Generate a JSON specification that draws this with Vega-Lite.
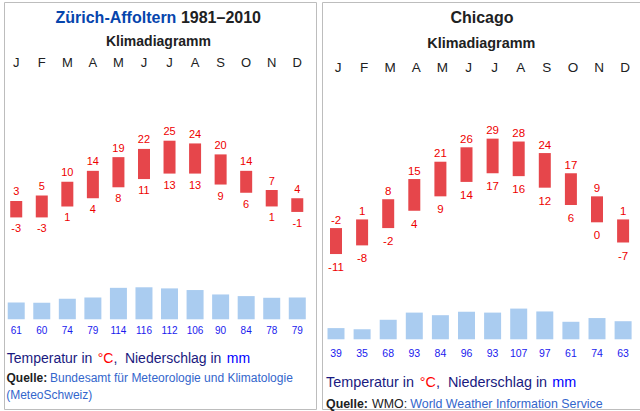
{
  "$schema": "https://vega.github.io/schema/vega-lite/v6.json",
  "padding": {"left": 3, "top": 1, "right": 0, "bottom": 0},
  "spacing": 4,
  "config": {
    "view": {"stroke": "#bdbdbd", "strokeWidth": 1},
    "font": "Liberation Sans",
    "text": {"font": "Liberation Sans"}
  },
  "datasets": {
    "zurich": [
      {"month": "Jan", "tmax": 3, "tmin": -3, "precip": 61},
      {"month": "Feb", "tmax": 5, "tmin": -3, "precip": 60},
      {"month": "Mar", "tmax": 10, "tmin": 1, "precip": 74},
      {"month": "Apr", "tmax": 14, "tmin": 4, "precip": 79},
      {"month": "May", "tmax": 19, "tmin": 8, "precip": 114},
      {"month": "Jun", "tmax": 22, "tmin": 11, "precip": 116},
      {"month": "Jul", "tmax": 25, "tmin": 13, "precip": 112},
      {"month": "Aug", "tmax": 24, "tmin": 13, "precip": 106},
      {"month": "Sep", "tmax": 20, "tmin": 9, "precip": 90},
      {"month": "Oct", "tmax": 14, "tmin": 6, "precip": 84},
      {"month": "Nov", "tmax": 7, "tmin": 1, "precip": 78},
      {"month": "Dec", "tmax": 4, "tmin": -1, "precip": 79}
    ],
    "chicago": [
      {"month": "Jan", "tmax": -2, "tmin": -11, "precip": 39},
      {"month": "Feb", "tmax": 1, "tmin": -8, "precip": 35},
      {"month": "Mar", "tmax": 8, "tmin": -2, "precip": 68},
      {"month": "Apr", "tmax": 15, "tmin": 4, "precip": 93},
      {"month": "May", "tmax": 21, "tmin": 9, "precip": 84},
      {"month": "Jun", "tmax": 26, "tmin": 14, "precip": 96},
      {"month": "Jul", "tmax": 29, "tmin": 17, "precip": 93},
      {"month": "Aug", "tmax": 28, "tmin": 16, "precip": 107},
      {"month": "Sep", "tmax": 24, "tmin": 12, "precip": 97},
      {"month": "Oct", "tmax": 17, "tmin": 6, "precip": 61},
      {"month": "Nov", "tmax": 9, "tmin": 0, "precip": 74},
      {"month": "Dec", "tmax": 1, "tmin": -7, "precip": 63}
    ]
  },
  "hconcat": [
    {
      "width": 312,
      "height": 407,
      "resolve": {"scale": {"y": "independent"}},
      "layer": [
        {
          "data": {"name": "zurich"},
          "encoding": {
            "x": {"field": "month", "type": "ordinal", "sort": null,
              "scale": {"range": [-0.55, 306.05], "paddingInner": 0, "paddingOuter": 0},
              "axis": {"orient": "top", "offset": -64.7, "labelExpr": "substring(datum.label,0,1)", "ticks": false, "domain": false, "grid": false, "labelPadding": 0, "labelBaseline": "alphabetic", "labelFontSize": 13, "labelColor": "#202122", "labelFont": "Liberation Sans", "labelAngle": 0, "title": null}}
          },
          "layer": [
            {"mark": {"type": "rule", "strokeDash": [1, 2], "color": "#d0d0d0"},
             "encoding": {"y": {"datum": 0, "type": "quantitative", "scale": {"domain": [-72.92, 75.62], "nice": false, "zero": false}, "axis": null}}},
            {"mark": {"type": "bar", "size": 12, "color": "#e6464b"},
             "encoding": {
               "y": {"field": "tmax", "type": "quantitative", "scale": {"domain": [-72.92, 75.62], "nice": false, "zero": false}, "axis": null},
               "y2": {"field": "tmin"}}},
            {"mark": {"type": "text", "dy": -5.5, "baseline": "alphabetic", "fontSize": 11, "color": "#ee0000"},
             "encoding": {
               "y": {"field": "tmax", "type": "quantitative", "scale": {"domain": [-72.92, 75.62], "nice": false, "zero": false}, "axis": null},
               "text": {"field": "tmax", "type": "nominal"}}},
            {"mark": {"type": "text", "dy": 15, "baseline": "alphabetic", "fontSize": 11, "color": "#ee0000"},
             "encoding": {
               "y": {"field": "tmin", "type": "quantitative", "scale": {"domain": [-72.92, 75.62], "nice": false, "zero": false}, "axis": null},
               "text": {"field": "tmin", "type": "nominal"}}}
          ]
        },
        {
          "data": {"name": "zurich"},
          "encoding": {
            "x": {"field": "month", "type": "ordinal", "sort": null,
              "scale": {"range": [-0.55, 306.05], "paddingInner": 0, "paddingOuter": 0},
              "axis": {"orient": "top", "offset": -64.7, "labelExpr": "substring(datum.label,0,1)", "ticks": false, "domain": false, "grid": false, "labelPadding": 0, "labelBaseline": "alphabetic", "labelFontSize": 13, "labelColor": "#202122", "labelFont": "Liberation Sans", "labelAngle": 0, "title": null}}
          },
          "layer": [
            {"mark": {"type": "bar", "size": 17, "color": "#aaccf0"},
             "encoding": {
               "y": {"field": "precip", "type": "quantitative", "scale": {"domain": [-325.0, 1149.6], "nice": false, "zero": false}, "axis": null},
               "y2": {"datum": 0}}},
            {"mark": {"type": "rule", "strokeDash": [1, 2], "color": "#c8c8c8"},
             "encoding": {"y": {"datum": 0, "type": "quantitative", "scale": {"domain": [-325.0, 1149.6], "nice": false, "zero": false}, "axis": null}}},
            {"mark": {"type": "text", "dy": 15.2, "baseline": "alphabetic", "fontSize": 10, "color": "#1a1aee"},
             "encoding": {
               "y": {"datum": 0, "type": "quantitative", "scale": {"domain": [-325.0, 1149.6], "nice": false, "zero": false}, "axis": null},
               "text": {"field": "precip", "type": "nominal"}}}
          ]
        },
        {"data": {"values": [{}]}, "mark": {"type": "text", "text": "Zürich-Affoltern", "x": 51.5, "y": 21, "align": "left", "baseline": "alphabetic", "fontSize": 16, "fontWeight": "bold", "color": "#0645ad"}},
        {"data": {"values": [{}]}, "mark": {"type": "text", "text": "1981–2010", "x": 176.9, "y": 21, "align": "left", "baseline": "alphabetic", "fontSize": 16, "fontWeight": "bold", "color": "#202122"}},
        {"data": {"values": [{}]}, "mark": {"type": "text", "text": "Klimadiagramm", "x": 154.5, "y": 43.5, "align": "center", "baseline": "alphabetic", "fontSize": 14, "fontWeight": "bold", "color": "#202122"}},
        {"data": {"values": [{}]}, "mark": {"type": "text", "text": "Temperatur in", "x": 2.7, "y": 360.7, "align": "left", "baseline": "alphabetic", "fontSize": 14, "color": "#1a1a80"}},
        {"data": {"values": [{}]}, "mark": {"type": "text", "text": "°C", "x": 93.7, "y": 360.7, "align": "left", "baseline": "alphabetic", "fontSize": 14, "color": "#ff0000"}},
        {"data": {"values": [{}]}, "mark": {"type": "text", "text": ",", "x": 109.4, "y": 360.7, "align": "left", "baseline": "alphabetic", "fontSize": 14, "color": "#1a1a80"}},
        {"data": {"values": [{}]}, "mark": {"type": "text", "text": "Niederschlag in", "x": 120.9, "y": 360.7, "align": "left", "baseline": "alphabetic", "fontSize": 14, "color": "#1a1a80"}},
        {"data": {"values": [{}]}, "mark": {"type": "text", "text": "mm", "x": 222.8, "y": 360.7, "align": "left", "baseline": "alphabetic", "fontSize": 14, "color": "#0000ff"}},
        {"data": {"values": [{}]}, "mark": {"type": "text", "text": "Quelle:", "x": 2.5, "y": 380, "align": "left", "baseline": "alphabetic", "fontSize": 12, "fontWeight": "bold", "color": "#202122"}},
        {"data": {"values": [{}]}, "mark": {"type": "text", "text": "Bundesamt für Meteorologie und Klimatologie", "x": 46, "y": 380, "align": "left", "baseline": "alphabetic", "fontSize": 12, "color": "#3366cc"}},
        {"data": {"values": [{}]}, "mark": {"type": "text", "text": "(MeteoSchweiz)", "x": 2.2, "y": 396.7, "align": "left", "baseline": "alphabetic", "fontSize": 12, "color": "#3366cc"}}
      ]
    },
    {
      "width": 319,
      "height": 407,
      "resolve": {"scale": {"y": "independent"}},
      "layer": [
        {
          "data": {"name": "chicago"},
          "encoding": {
            "x": {"field": "month", "type": "ordinal", "sort": null,
              "scale": {"range": [0.95, 314.15], "paddingInner": 0, "paddingOuter": 0},
              "axis": {"orient": "top", "offset": -69.5, "labelOffset": 2, "labelExpr": "substring(datum.label,0,1)", "ticks": false, "domain": false, "grid": false, "labelPadding": 0, "labelBaseline": "alphabetic", "labelFontSize": 13.5, "labelColor": "#202122", "labelFont": "Liberation Sans", "labelAngle": 0, "title": null}}
          },
          "layer": [
            {"mark": {"type": "rule", "strokeDash": [1, 2], "color": "#bfae9f"},
             "encoding": {"y": {"datum": 0, "type": "quantitative", "scale": {"domain": [-64.71, 76.36], "nice": false, "zero": false}, "axis": null}}},
            {"mark": {"type": "bar", "size": 12, "color": "#e6464b"},
             "encoding": {
               "y": {"field": "tmax", "type": "quantitative", "scale": {"domain": [-64.71, 76.36], "nice": false, "zero": false}, "axis": null},
               "y2": {"field": "tmin"}}},
            {"mark": {"type": "text", "dy": -4.3, "baseline": "alphabetic", "fontSize": 11.5, "color": "#ee0000"},
             "encoding": {
               "y": {"field": "tmax", "type": "quantitative", "scale": {"domain": [-64.71, 76.36], "nice": false, "zero": false}, "axis": null},
               "text": {"field": "tmax", "type": "nominal"}}},
            {"mark": {"type": "text", "dy": 17, "baseline": "alphabetic", "fontSize": 11.5, "color": "#ee0000"},
             "encoding": {
               "y": {"field": "tmin", "type": "quantitative", "scale": {"domain": [-64.71, 76.36], "nice": false, "zero": false}, "axis": null},
               "text": {"field": "tmin", "type": "nominal"}}}
          ]
        },
        {
          "data": {"name": "chicago"},
          "encoding": {
            "x": {"field": "month", "type": "ordinal", "sort": null,
              "scale": {"range": [0.95, 314.15], "paddingInner": 0, "paddingOuter": 0},
              "axis": {"orient": "top", "offset": -69.5, "labelOffset": 2, "labelExpr": "substring(datum.label,0,1)", "ticks": false, "domain": false, "grid": false, "labelPadding": 0, "labelBaseline": "alphabetic", "labelFontSize": 13.5, "labelColor": "#202122", "labelFont": "Liberation Sans", "labelAngle": 0, "title": null}}
          },
          "layer": [
            {"mark": {"type": "bar", "size": 17, "color": "#aaccf0"},
             "encoding": {
               "y": {"field": "precip", "type": "quantitative", "scale": {"domain": [-242.9, 1175.3], "nice": false, "zero": false}, "axis": null},
               "y2": {"datum": 0}}},
            {"mark": {"type": "rule", "strokeDash": [1, 2], "color": "#c8c8c8"},
             "encoding": {"y": {"datum": 0, "type": "quantitative", "scale": {"domain": [-242.9, 1175.3], "nice": false, "zero": false}, "axis": null}}},
            {"mark": {"type": "text", "dy": 17.7, "baseline": "alphabetic", "fontSize": 10.5, "color": "#1a1aee"},
             "encoding": {
               "y": {"datum": 0, "type": "quantitative", "scale": {"domain": [-242.9, 1175.3], "nice": false, "zero": false}, "axis": null},
               "text": {"field": "precip", "type": "nominal"}}}
          ]
        },
        {"data": {"values": [{}]}, "mark": {"type": "text", "text": "Chicago", "x": 160, "y": 21, "align": "center", "baseline": "alphabetic", "fontSize": 16, "fontWeight": "bold", "color": "#202122"}},
        {"data": {"values": [{}]}, "mark": {"type": "text", "text": "Klimadiagramm", "x": 159.3, "y": 45.5, "align": "center", "baseline": "alphabetic", "fontSize": 14.4, "fontWeight": "bold", "color": "#202122"}},
        {"data": {"values": [{}]}, "mark": {"type": "text", "text": "Temperatur in", "x": 4.0, "y": 385, "align": "left", "baseline": "alphabetic", "fontSize": 14.4, "color": "#1a1a80"}},
        {"data": {"values": [{}]}, "mark": {"type": "text", "text": "°C", "x": 97.7, "y": 385, "align": "left", "baseline": "alphabetic", "fontSize": 14.4, "color": "#ff0000"}},
        {"data": {"values": [{}]}, "mark": {"type": "text", "text": ",", "x": 113.9, "y": 385, "align": "left", "baseline": "alphabetic", "fontSize": 14.4, "color": "#1a1a80"}},
        {"data": {"values": [{}]}, "mark": {"type": "text", "text": "Niederschlag in", "x": 125.9, "y": 385, "align": "left", "baseline": "alphabetic", "fontSize": 14.4, "color": "#1a1a80"}},
        {"data": {"values": [{}]}, "mark": {"type": "text", "text": "mm", "x": 230.3, "y": 385, "align": "left", "baseline": "alphabetic", "fontSize": 14.4, "color": "#0000ff"}},
        {"data": {"values": [{}]}, "mark": {"type": "text", "text": "Quelle:", "x": 4.0, "y": 406, "align": "left", "baseline": "alphabetic", "fontSize": 12.4, "fontWeight": "bold", "color": "#202122"}},
        {"data": {"values": [{}]}, "mark": {"type": "text", "text": "WMO:", "x": 50.0, "y": 406, "align": "left", "baseline": "alphabetic", "fontSize": 12.4, "color": "#202122"}},
        {"data": {"values": [{}]}, "mark": {"type": "text", "text": "World Weather Information Service", "x": 88.3, "y": 406, "align": "left", "baseline": "alphabetic", "fontSize": 12.4, "color": "#3366cc"}}
      ]
    }
  ]
}
